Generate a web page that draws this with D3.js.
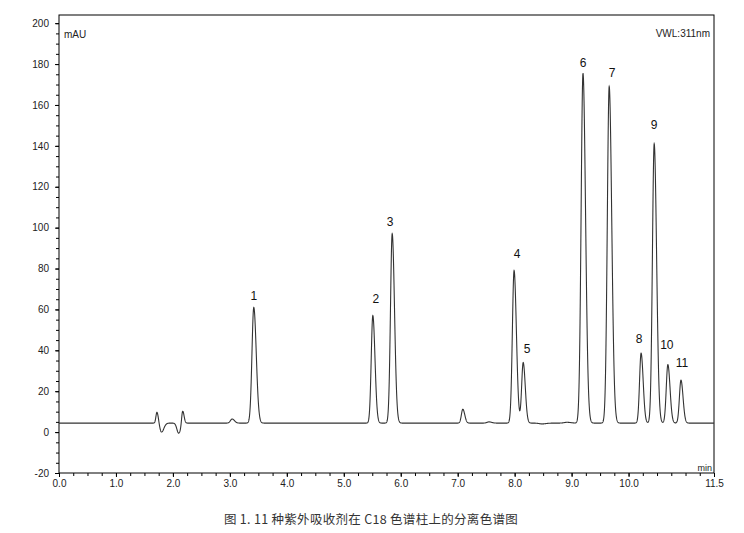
<!DOCTYPE html>
<html>
<head>
<meta charset="utf-8">
<script src="https://cdn.jsdelivr.net/npm/d3@7"></script>
<style>
  body { margin: 0; background: #fff; }
  svg { display: block; }
  .axis text { font-family: "Liberation Sans", Arial, sans-serif; font-size: 10px; fill: #222; }
  .axis line { stroke: #000; }
  .axis path { display: none; }
</style>
</head>
<body>
<script>
// peaks (time in min, apex in mAU)
var peakLabels  = ["1", "2", "3", "4", "5", "6", "7", "8", "9", "10", "11"];
var peakTimes   = [3.42, 5.51, 5.85, 7.99, 8.15, 9.20, 9.66, 10.22, 10.45, 10.69, 10.92];
var peakHeights = [61, 57, 97, 79, 34, 175.5, 169, 38.6, 141, 33, 25.4];
var peakWidths  = [0.032, 0.028, 0.03, 0.03, 0.027, 0.033, 0.033, 0.027, 0.031, 0.028, 0.027];

// small baseline disturbances
var minorTimes   = [1.72, 1.80, 2.10, 2.17, 3.04, 7.09, 7.55, 8.48, 8.92];
var minorHeights = [5.4, -4.4, -4.9, 6.8, 2.0, 6.8, 0.6, -0.4, 0.4];
var minorWidths  = [0.018, 0.03, 0.03, 0.018, 0.03, 0.025, 0.035, 0.05, 0.05];

var baselineLevel = 4.4;

var xTickValues = [0, 1, 2, 3, 4, 5, 6, 7, 8, 9, 10, 11.5];
var yTickValues = [-20, 0, 20, 40, 60, 80, 100, 120, 140, 160, 180, 200];

// label nudges [dx, dy] from each apex
var labelNudge = [[0, -12], [3, -17], [-2, -12], [3, -17], [4, -14], [0, -10],
                  [3, -14], [-2, -14], [0, -19], [-1, -20], [1, -17]];

var width = 744,
    height = 533;

var x = d3.scaleLinear().domain([0, 11.5]).range([59, 714]);
var y = d3.scaleLinear().domain([-20, 204]).range([473, 15]);

var svg = d3.select("body").append("svg")
    .attr("width", width)
    .attr("height", height);

// axes
svg.append("g")
    .attr("class", "axis")
    .attr("transform", "translate(0," + y(-20) + ")")
    .call(d3.axisBottom(x).tickValues(d3.range(0, 11.51, 0.25)).tickSize(3).tickFormat(""));

svg.append("g")
    .attr("class", "axis")
    .attr("transform", "translate(0," + y(-20) + ")")
    .call(d3.axisBottom(x).tickValues(xTickValues).tickSize(4).tickPadding(3)
      .tickFormat(function(d) { return d.toFixed(1); }));

svg.append("g")
    .attr("class", "axis")
    .attr("transform", "translate(" + x(0) + ",0)")
    .call(d3.axisLeft(y).tickValues(d3.range(-20, 204, 5)).tickSize(3).tickFormat(""));

svg.append("g")
    .attr("class", "axis")
    .attr("transform", "translate(" + x(0) + ",0)")
    .call(d3.axisLeft(y).tickValues(yTickValues).tickSize(4).tickPadding(6)
      .tickFormat(function(d) { return String(d); }));

// frame
svg.append("rect")
    .attr("x", x(0))
    .attr("y", y(204))
    .attr("width", x(11.5) - x(0))
    .attr("height", y(-20) - y(204))
    .attr("fill", "none")
    .attr("stroke", "#000")
    .attr("stroke-width", 1);

// trace: baseline plus slightly tailing peaks
function bump(t, t0, h, s) {
  var sd = t < t0 ? s : s * 1.35;
  return h * Math.exp(-0.5 * Math.pow((t - t0) / sd, 2));
}

function signal(t) {
  var v = baselineLevel;
  peakTimes.forEach(function(t0, i) {
    v += bump(t, t0, peakHeights[i] - baselineLevel, peakWidths[i]);
  });
  minorTimes.forEach(function(t0, i) {
    v += bump(t, t0, minorHeights[i], minorWidths[i]);
  });
  return v;
}

var samples = d3.range(0, 11.5001, 0.002);

var line = d3.line()
    .x(function(t) { return x(t); })
    .y(function(t) { return y(signal(t)); });

svg.append("path")
    .datum(samples)
    .attr("d", line)
    .attr("fill", "none")
    .attr("stroke", "#333")
    .attr("stroke-width", 1.1);

// peak numbers
svg.append("g").selectAll("text")
    .data(peakLabels)
  .enter().append("text")
    .attr("x", function(d, i) { return x(peakTimes[i]) + labelNudge[i][0]; })
    .attr("y", function(d, i) { return y(peakHeights[i]) + labelNudge[i][1]; })
    .attr("dy", "0.35em")
    .attr("text-anchor", "middle")
    .attr("font-family", "Liberation Sans, Arial, sans-serif")
    .attr("font-size", 12)
    .attr("fill", "#111")
    .text(function(d) { return d; });

// corner texts
svg.append("text")
    .attr("x", 64).attr("y", 38)
    .attr("font-family", "Liberation Sans, Arial, sans-serif")
    .attr("font-size", 10).attr("fill", "#222")
    .text("mAU");

svg.append("text")
    .attr("x", 710).attr("y", 37)
    .attr("text-anchor", "end")
    .attr("font-family", "Liberation Sans, Arial, sans-serif")
    .attr("font-size", 10).attr("fill", "#222")
    .text("VWL:311nm");

svg.append("text")
    .attr("x", 712).attr("y", 471)
    .attr("text-anchor", "end")
    .attr("font-family", "Liberation Sans, Arial, sans-serif")
    .attr("font-size", 9).attr("fill", "#222")
    .text("min");

// caption
svg.append("text")
    .attr("x", 371).attr("y", 524)
    .attr("text-anchor", "middle")
    .attr("font-family", "Noto Sans CJK SC, sans-serif")
    .attr("font-size", 12.5)
    .attr("letter-spacing", 0.3)
    .attr("fill", "#333")
    .text("图 1. 11 种紫外吸收剂在 C18 色谱柱上的分离色谱图");
</script>
</body>
</html>
